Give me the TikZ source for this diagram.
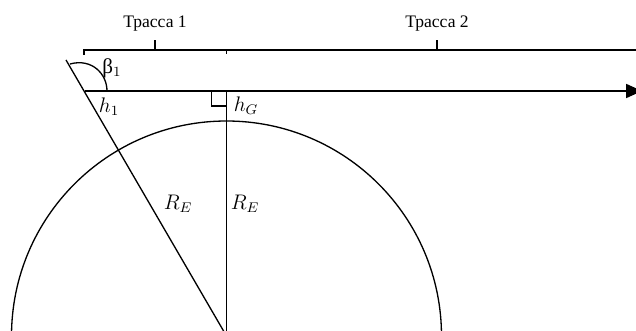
\documentclass[tikz,border=0pt]{standalone}
\usepackage{fontspec}
\setmainfont{Liberation Serif}
\usetikzlibrary{arrows.meta}

\begin{document}
\begin{tikzpicture}[x=0.02cm, y=-0.02cm, line width=0.75pt]
\useasboundingbox (0,0) rectangle (636,331);
\clip (0,0) rectangle (636,331);
\coordinate (O) at (226.5, 336);
\coordinate (T) at (66, 60);
\coordinate (X) at (84.6, 91);
\coordinate (G) at (226.5, 91);
\coordinate (E) at (642, 91);
\coordinate (B0) at (84, 50);
\coordinate (B1) at (155, 50);
\coordinate (BG) at (226.5, 50);
\coordinate (B2) at (437, 50);
\coordinate (BE) at (640, 50);
% earth
\draw[black] (O) circle [radius=215];
\draw[black] (T)--(O);
\draw[black] (G)--(O);
\draw[black, -{Triangle[length=9pt, width=8pt]}] (X)--(E);
\draw[black] (G) ++(-15,0) -- ++(0,15) -- ++(15,0);
\draw[black] (70,64) .. controls (92,58) and (107,74) .. (107,91);
% tracks
\draw[black] (B0) ++(0,5) -- (B0) -- (BE);
\draw[black] (B1) -- ++(0,-10);
\draw[black] (BG) -- ++(0,4);
\draw[black] (B2) -- ++(0,-10);
\node[] (trassa1) at (155,24) {Трасса 1};
\node[] (trassa2) at (437,24) {Трасса 2};
\node[font=\large] (beta1) at (112,68) {β$_1$};
\node[font=\large] (h1) at (109,107) {$h_1$};
\node[font=\large] (hG) at (246,106) {$h_G$};
\node[font=\large] (RE1) at (178,204) {$R_E$};
\node[font=\large] (RE2) at (245,204) {$R_E$};
\end{tikzpicture}
\end{document}
